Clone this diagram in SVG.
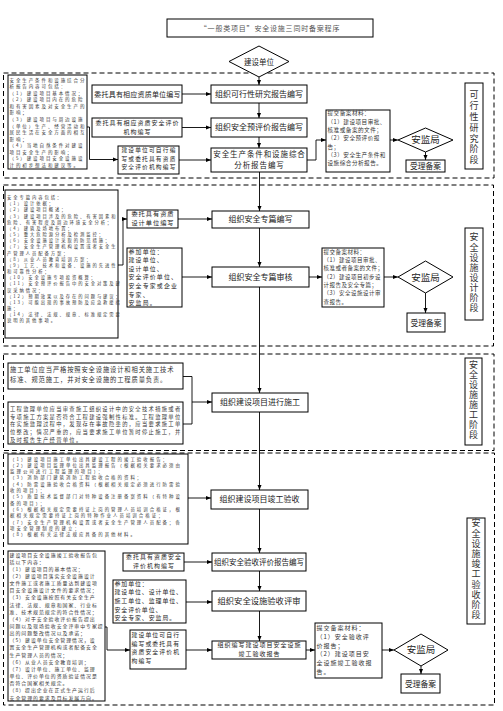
<svg xmlns="http://www.w3.org/2000/svg" width="503" height="711" viewBox="0 0 503 711">
<style>
text{font-family:"Noto Sans CJK SC","Noto Sans",sans-serif;fill:#222}
.b{fill:#fff;stroke:#000;stroke-width:1}
.sec{fill:none;stroke:#000;stroke-width:1;stroke-dasharray:5 3}
.c{fill:none;stroke:#000;stroke-width:0.9}
.m{font-size:8px;text-anchor:middle}
.s{font-size:6px;text-anchor:middle;letter-spacing:1px}
.t{fill:#333}
.p{font-size:5.9px;letter-spacing:1.1px}
.lab{font-size:9px;fill:#333;writing-mode:vertical-rl}
</style>
<defs>
<marker id="a" markerWidth="6" markerHeight="6" refX="5" refY="3" orient="auto" markerUnits="userSpaceOnUse"><path d="M0,1 L5,3 L0,5 z" fill="#000"/></marker>
</defs>
<rect width="503" height="711" fill="#fff"/>
<g id="sections">
<rect class="sec" x="3.5" y="73" width="490.5" height="105"/>
<rect class="sec" x="3.5" y="185" width="490" height="161"/>
<rect class="sec" x="3.5" y="354" width="490.5" height="96.5"/>
<rect class="sec" x="3.5" y="453" width="491" height="252"/>
</g>
<g id="title">
<rect class="b" x="167" y="19" width="206" height="18"/>
<text x="270" y="30.5" style="font-size:7px;text-anchor:middle;letter-spacing:0.8px;fill:#555">“一般类项目”安全设施三同时备案程序</text>
</g>
<g id="n-jsdw">
<polygon class="b" points="229,61.5 259,46 289,61.5 259,77"/>
<text x="259" y="64.5" style="font-size:7.5px;text-anchor:middle">建设单位</text>
</g>
<!-- Section 1 -->
<g id="n-s1-left">
<rect class="b" x="8" y="75" width="79" height="94"/>
<text class="t" x="9.5" y="81.5" style="font-size:4.5px;letter-spacing:1.9px"><tspan x="9.5">安全生产条件和设施综合分</tspan><tspan x="9.5" dy="6.58">析报告内容可包括：</tspan><tspan x="9.5" dy="6.58">（1）建设项目基本情况；</tspan><tspan x="9.5" dy="6.58">（2）建设项目内在的危险</tspan><tspan x="9.5" dy="6.58">和有害因素及对安全生产的</tspan><tspan x="9.5" dy="6.58">影响；</tspan><tspan x="9.5" dy="6.58">（3）建设项目与周边设施</tspan><tspan x="9.5" dy="6.58">（单位）生产、经营活动和</tspan><tspan x="9.5" dy="6.58">居民生活在安全方面的相互</tspan><tspan x="9.5" dy="6.58">影响；</tspan><tspan x="9.5" dy="6.58">（4）当地自然条件对建设</tspan><tspan x="9.5" dy="6.58">项目安全生产的影响；</tspan><tspan x="9.5" dy="6.58">（5）建设项目安全设施设</tspan><tspan x="9.5" dy="6.58">计的初步想法和建议等。</tspan></text>
</g>
<g id="n-s1-w1">
<rect class="b" x="92" y="85" width="90" height="18"/>
<text class="s" x="137.5" y="96.5" style="font-size:7px;letter-spacing:0.2px">委托具有相应资质单位编写</text>
</g>
<g id="n-s1-kxx">
<rect class="b" x="211" y="85" width="96" height="18"/>
<text class="m" x="259" y="97">组织可行性研究报告编写</text>
</g>
<g id="n-s1-w2">
<rect class="b" x="92" y="118" width="90" height="19"/>
<text class="s" x="137.5" y="124.8">委托具有相应资质安全评价</text>
<text class="s" x="137.5" y="133.5">机构编写</text>
</g>
<g id="n-s1-ypj">
<rect class="b" x="211" y="118" width="96" height="19"/>
<text class="m" x="259" y="130.3">组织安全预评价报告编写</text>
</g>
<g id="n-s1-w3">
<rect class="b" x="118" y="146" width="61" height="28"/>
<text class="s" x="149" y="152.4" style="font-size:5.7px;letter-spacing:1.2px">建设单位可自行编</text>
<text class="s" x="149" y="160.7" style="font-size:5.7px;letter-spacing:1.2px">写或委托具有资质</text>
<text class="s" x="149" y="169" style="font-size:5.7px;letter-spacing:1.2px">安全评价机构编写</text>
</g>
<g id="n-s1-zh">
<rect class="b" x="211" y="148" width="96" height="24"/>
<text class="m" x="259.5" y="156.5" style="font-size:7.5px;letter-spacing:0.9px">安全生产条件和设施综合</text>
<text class="m" x="259.5" y="167.5" style="font-size:7.5px;letter-spacing:0.9px">分析报告编写</text>
</g>
<g id="n-s1-tj">
<rect class="b" x="326" y="110" width="64" height="62"/>
<text class="t" x="327.5" y="115.3" style="font-size:5.6px;letter-spacing:0.5px"><tspan x="327.5">提交备案材料：</tspan><tspan x="327.5" dy="8.3">（1）建设项目审批、</tspan><tspan x="327.5" dy="8.3">核准或备案的文件；</tspan><tspan x="327.5" dy="8.3">（2）安全预评价报</tspan><tspan x="327.5" dy="8.3">告；</tspan><tspan x="327.5" dy="8.3">（3）安全生产条件和</tspan><tspan x="327.5" dy="8.3">设施综合分析报告。</tspan></text>
</g>
<g id="n-s1-ajj">
<polygon class="b" points="398,140 425.5,128 453,140 425.5,152"/>
<text x="425.5" y="143.3" style="font-size:9.5px;text-anchor:middle">安监局</text>
</g>
<g id="n-s1-sl">
<rect class="b" x="406" y="160" width="39" height="12"/>
<text x="425.5" y="169" style="font-size:7.8px;text-anchor:middle">受理备案</text>
</g>
<g id="n-s1-lab">
<rect class="b" x="465" y="83" width="18" height="86"/>
<text class="lab" x="474" y="90.5" style="letter-spacing:1.8px">可行性研究阶段</text>
</g>
<!-- Section 2 -->
<g id="n-s2-left">
<rect class="b" x="5" y="190" width="113" height="148"/>
<text class="t" x="7" y="199" style="font-size:4.3px;letter-spacing:1.95px"><tspan x="7">安全专篇内容包括：</tspan><tspan x="7" dy="6.17">（1）设计依据；</tspan><tspan x="7" dy="6.17">（2）建设项目概述；</tspan><tspan x="7" dy="6.17">（3）建设项目涉及的危险、有害因素和</tspan><tspan x="7" dy="6.17">危险、有害程度及周边环境安全分析；</tspan><tspan x="7" dy="6.17">（4）建筑及场地布置；</tspan><tspan x="7" dy="6.17">（5）重大危险源分析及检测监控；</tspan><tspan x="7" dy="6.17">（6）安全设施设计采取的防范措施；</tspan><tspan x="7" dy="6.17">（7）安全生产管理机构设置或者安全生</tspan><tspan x="7" dy="6.17">产管理人员配备方案；</tspan><tspan x="7" dy="6.17">（8）从业人员教育培训方案；</tspan><tspan x="7" dy="6.17">（9）工艺、技术和设备、设施的先进性</tspan><tspan x="7" dy="6.17">和可靠性分析；</tspan><tspan x="7" dy="6.17">（10）安全设施专项投资概算；</tspan><tspan x="7" dy="6.17">（11）安全预评价报告中的安全对策及建</tspan><tspan x="7" dy="6.17">议采纳情况；</tspan><tspan x="7" dy="6.17">（12）预期效果以及存在的问题与建议；</tspan><tspan x="7" dy="6.17">（13）可能出现的事故预防及应急救援措</tspan><tspan x="7" dy="6.17">施；</tspan><tspan x="7" dy="6.17">（14）法律、法规、规章、标准规定需要</tspan><tspan x="7" dy="6.17">说明的其他事项。</tspan></text>
</g>
<g id="n-s2-w">
<rect class="b" x="127" y="210" width="51" height="18"/>
<text class="s" x="153" y="215.9" style="font-size:6.2px">委托具有资质</text>
<text class="s" x="153" y="225" style="font-size:6.2px">设计单位编写</text>
</g>
<g id="n-s2-bx">
<rect class="b" x="212" y="211" width="97" height="17"/>
<text class="m" x="260.5" y="222.3">组织安全专篇编写</text>
</g>
<g id="n-s2-cj">
<rect class="b" x="127" y="248" width="55" height="59"/>
<text class="p" x="128.5" y="253.5" style="letter-spacing:1.2px"><tspan x="128.5">参加单位：</tspan><tspan x="128.5" dy="8.6">建设单位、</tspan><tspan x="128.5" dy="8.6">设计单位、</tspan><tspan x="128.5" dy="8.6">安全评价单位、</tspan><tspan x="128.5" dy="8.6">安全专家或企业</tspan><tspan x="128.5" dy="8.6">专家、</tspan><tspan x="128.5" dy="8.6">安监局。</tspan></text>
</g>
<g id="n-s2-sh">
<rect class="b" x="212" y="267" width="97" height="20"/>
<text class="m" x="260.5" y="280">组织安全专篇审核</text>
</g>
<g id="n-s2-tj">
<rect class="b" x="322" y="248" width="62" height="59"/>
<text class="t" x="323.5" y="253.7" style="font-size:5.5px;letter-spacing:0.5px"><tspan x="323.5">提交备案材料：</tspan><tspan x="323.5" dy="8.3">（1）建设项目审批、</tspan><tspan x="323.5" dy="8.3">核准或者备案的文件；</tspan><tspan x="323.5" dy="8.3">（2）建设项目初步设</tspan><tspan x="323.5" dy="8.3">计报告及安全专篇；</tspan><tspan x="323.5" dy="8.3">（3）安全设施设计审</tspan><tspan x="323.5" dy="8.3">查报告。</tspan></text>
</g>
<g id="n-s2-ajj">
<polygon class="b" points="398,277 425.5,261 453,277 425.5,293"/>
<text x="425.5" y="280.5" style="font-size:9.5px;text-anchor:middle">安监局</text>
</g>
<g id="n-s2-sl">
<rect class="b" x="407" y="313" width="38" height="19"/>
<text x="426" y="325.5" style="font-size:7.8px;text-anchor:middle">受理备案</text>
</g>
<g id="n-s2-lab">
<rect class="b" x="465" y="228" width="18" height="92"/>
<text class="lab" x="474" y="232.5" style="letter-spacing:1.1px">安全设施设计阶段</text>
</g>
<!-- Section 3 -->
<g id="n-s3-sg">
<rect class="b" x="8" y="363" width="175" height="26"/>
<text class="t" x="10" y="372.3" style="font-size:6.3px;letter-spacing:0.85px"><tspan x="10">施工单位应当严格按照安全设施设计和相关施工技术</tspan><tspan x="10" dy="9.3">标准、规范施工，并对安全设施的工程质量负责。</tspan></text>
</g>
<g id="n-s3-jl">
<rect class="b" x="8" y="402" width="175" height="42"/>
<text class="t" x="10" y="410.8" style="font-size:5.3px;letter-spacing:1.3px"><tspan x="10">工程监理单位应当审查施工组织设计中的安全技术措施或者</tspan><tspan x="10" dy="7.7">专项施工方案是否符合工程建设强制性标准。工程监理单位</tspan><tspan x="10" dy="7.7">在实施监理过程中，发现存在事故隐患的，应当要求施工单</tspan><tspan x="10" dy="7.7">位整改；情况严重的，应当要求施工单位暂时停止施工，并</tspan><tspan x="10" dy="7.7">及时报告生产经营单位。</tspan></text>
</g>
<g id="n-s3-jx">
<rect class="b" x="212" y="393" width="96" height="19"/>
<text class="m" x="260" y="405.3">组织建设项目进行施工</text>
</g>
<g id="n-s3-lab">
<rect class="b" x="465" y="358" width="17" height="87"/>
<text class="lab" x="473.5" y="360.5" style="letter-spacing:1px">安全设施施工阶段</text>
</g>
<!-- Section 4 -->
<g id="n-s4-zl">
<rect class="b" x="8" y="454" width="180" height="90"/>
<text class="t" x="10" y="460.5" style="font-size:4.4px;letter-spacing:2.05px"><tspan x="10">（1）建设项目施工单位出具建设工程的竣工验收报告；</tspan><tspan x="10" dy="6.3">（2）建设项目监理单位出具监理报告（根据相关要求必须由</tspan><tspan x="10" dy="6.3">监理公司进行工程监理的项目）；</tspan><tspan x="10" dy="6.3">（3）消防部门建筑消防工程验收合格的资料；</tspan><tspan x="10" dy="6.3">（4）防雷设施验收合格资料（根据相关规定必须进行防雷验</tspan><tspan x="10" dy="6.3">收的项目）；</tspan><tspan x="10" dy="6.3">（5）质量技术监督部门对特种设备注册备案资料（有特种设</tspan><tspan x="10" dy="6.3">备的项目）；</tspan><tspan x="10" dy="6.3">（6）根据相关规定需要持证上岗的管理人员培训合格证，根</tspan><tspan x="10" dy="6.3">据相关规定需要持证上岗的特种作业人员培训合格证；</tspan><tspan x="10" dy="6.3">（7）安全生产管理机构设置或者安全生产管理人员配备；各</tspan><tspan x="10" dy="6.3">项安全管理制度的建立；</tspan><tspan x="10" dy="6.3">（8）根据有关法律法规应具备的其他材料。</tspan></text>
</g>
<g id="n-s4-jg">
<rect class="b" x="211" y="490" width="97" height="19"/>
<text class="m" x="259.5" y="502.3">组织建设项目竣工验收</text>
</g>
<g id="n-s4-w">
<rect class="b" x="123" y="553" width="61" height="18"/>
<text class="s" x="154" y="559.4" style="font-size:5.9px;letter-spacing:1.1px">委托具有资质安全</text>
<text class="s" x="154" y="568" style="font-size:5.9px;letter-spacing:1.1px">评价机构编写</text>
</g>
<g id="n-s4-pj">
<rect class="b" x="212" y="553" width="94" height="18"/>
<text class="m" x="259" y="564.8" style="font-size:7.5px">组织安全验收评价报告编写</text>
</g>
<g id="n-s4-cj">
<rect class="b" x="113" y="580" width="73" height="43"/>
<text class="p" x="114.5" y="585.8" style="letter-spacing:0.95px"><tspan x="114.5">参加单位：</tspan><tspan x="114.5" dy="8.6">建设单位、设计单位、</tspan><tspan x="114.5" dy="8.6">施工单位、监理单位、</tspan><tspan x="114.5" dy="8.6">安全评价单位、</tspan><tspan x="114.5" dy="8.6">安全专家、安监局。</tspan></text>
</g>
<g id="n-s4-ps">
<rect class="b" x="212" y="591" width="94" height="20"/>
<text class="m" x="259" y="604" style="font-size:8.3px">组织安全设施验收评审</text>
</g>
<g id="n-s4-nr">
<rect class="b" x="8" y="551" width="97" height="150"/>
<text class="t" x="9.5" y="556.5" style="font-size:4.9px;letter-spacing:1px"><tspan x="9.5">建设项目安全设施竣工验收报告包</tspan><tspan x="9.5" dy="7.15">括以下内容：</tspan><tspan x="9.5" dy="7.15">（1）建设项目的基本情况；</tspan><tspan x="9.5" dy="7.15">（2）建设项目落实安全设施设计</tspan><tspan x="9.5" dy="7.15">文件施工或者施工质量达到建设项</tspan><tspan x="9.5" dy="7.15">目安全设施设计文件的要求情况；</tspan><tspan x="9.5" dy="7.15">（3）安全设施按照有关安全生产</tspan><tspan x="9.5" dy="7.15">法律、法规、规章和国家、行业标</tspan><tspan x="9.5" dy="7.15">准、技术规范规定的符合性情况；</tspan><tspan x="9.5" dy="7.15">（4）对于安全验收评价报告提出</tspan><tspan x="9.5" dy="7.15">问题以及现场验收安全评审中专家提</tspan><tspan x="9.5" dy="7.15">出的问题整改情况以及承诺；</tspan><tspan x="9.5" dy="7.15">（5）建设单位安全管理情况，设</tspan><tspan x="9.5" dy="7.15">置安全生产管理机构或者配备安全</tspan><tspan x="9.5" dy="7.15">生产管理人员的情况；</tspan><tspan x="9.5" dy="7.15">（6）从业人员安全教育培训；</tspan><tspan x="9.5" dy="7.15">（7）设计单位、施工单位、监理</tspan><tspan x="9.5" dy="7.15">单位、评价单位的资质验证情况是</tspan><tspan x="9.5" dy="7.15">否符合国家相关规定。</tspan><tspan x="9.5" dy="7.15">（8）提出企业在正式生产运行后</tspan><tspan x="9.5" dy="7.15">安全管理的要求及目标发展方向。</tspan></text>
</g>
<g id="n-s4-zx">
<rect class="b" x="130" y="630" width="56" height="39"/>
<text class="p" x="131.5" y="637.3" style="font-size:5.85px;letter-spacing:1.1px"><tspan x="131.5">建设单位可自行</tspan><tspan x="131.5" dy="8.5">编写或委托具有</tspan><tspan x="131.5" dy="8.5">资质安全评价机</tspan><tspan x="131.5" dy="8.5">构编写</tspan></text>
</g>
<g id="n-s4-bg">
<rect class="b" x="212" y="641" width="94" height="18"/>
<text class="s" x="259.5" y="647" style="font-size:6px;letter-spacing:1px">组织编写建设项目安全设施</text>
<text class="s" x="259.5" y="655.8" style="font-size:6px;letter-spacing:1px">竣工验收报告</text>
</g>
<g id="n-s4-tj">
<rect class="b" x="315" y="623" width="67" height="55"/>
<text class="t" x="316.5" y="630" style="font-size:6px;letter-spacing:1px"><tspan x="316.5">提交备案材料：</tspan><tspan x="316.5" dy="8.8">（1）安全验收评</tspan><tspan x="316.5" dy="8.8">价报告；</tspan><tspan x="316.5" dy="8.8">（2）建设项目安</tspan><tspan x="316.5" dy="8.8">全设施竣工验收报</tspan><tspan x="316.5" dy="8.8">告。</tspan></text>
</g>
<g id="n-s4-ajj">
<polygon class="b" points="394,650 421,634 448,650 421,666"/>
<text x="421" y="653.3" style="font-size:9.5px;text-anchor:middle">安监局</text>
</g>
<g id="n-s4-sl">
<rect class="b" x="401" y="674" width="39" height="19"/>
<text x="420.5" y="686.5" style="font-size:7.8px;text-anchor:middle">受理备案</text>
</g>
<g id="n-s4-lab">
<rect class="b" x="467" y="518" width="18" height="106"/>
<text class="lab" x="476" y="518.5" style="letter-spacing:1.2px">安全设施竣工验收阶段</text>
</g>
<g id="connectors">
<path class="c" d="M259,77 V85" marker-end="url(#a)"/>
<path class="c" d="M259,103 V118" marker-end="url(#a)"/>
<path class="c" d="M259,137 V148" marker-end="url(#a)"/>
<path class="c" d="M182,94 H211" marker-end="url(#a)"/>
<path class="c" d="M182,127.5 H211" marker-end="url(#a)"/>
<path class="c" d="M179,160 H211" marker-end="url(#a)"/>
<path class="c" d="M87,127 H89.5 V159.5 H118" marker-end="url(#a)"/>
<path class="c" d="M307,160 H316 V140 H326" marker-end="url(#a)"/>
<path class="c" d="M390,140 H398" marker-end="url(#a)"/>
<path class="c" d="M425.5,152 V160" marker-end="url(#a)"/>
<path class="c" d="M259.5,172 V211" marker-end="url(#a)"/>
<path class="c" d="M118,265 H123 V219 H127" marker-end="url(#a)"/>
<path class="c" d="M178,219 H212" marker-end="url(#a)"/>
<path class="c" d="M259.5,228 V267" marker-end="url(#a)"/>
<path class="c" d="M182,277 H212" marker-end="url(#a)"/>
<path class="c" d="M309,277 H322" marker-end="url(#a)"/>
<path class="c" d="M384,277 H398" marker-end="url(#a)"/>
<path class="c" d="M425.5,293 V313" marker-end="url(#a)"/>
<path class="c" d="M259.5,287 V393" marker-end="url(#a)"/>
<path class="c" d="M183,376.5 H192 V424 H183"/>
<path class="c" d="M192,402 H212" marker-end="url(#a)"/>
<path class="c" d="M259.5,412 V490" marker-end="url(#a)"/>
<path class="c" d="M188,498 H211" marker-end="url(#a)"/>
<path class="c" d="M259.5,509 V553" marker-end="url(#a)"/>
<path class="c" d="M184,562 H212" marker-end="url(#a)"/>
<path class="c" d="M259.5,571 V591" marker-end="url(#a)"/>
<path class="c" d="M186,602 H212" marker-end="url(#a)"/>
<path class="c" d="M259.5,611 V641" marker-end="url(#a)"/>
<path class="c" d="M105,627 H107 V650 H130" marker-end="url(#a)"/>
<path class="c" d="M186,650 H212" marker-end="url(#a)"/>
<path class="c" d="M306,650 H315" marker-end="url(#a)"/>
<path class="c" d="M382,650 H394" marker-end="url(#a)"/>
<path class="c" d="M421,666 V674" marker-end="url(#a)"/>
</g>
</svg>
